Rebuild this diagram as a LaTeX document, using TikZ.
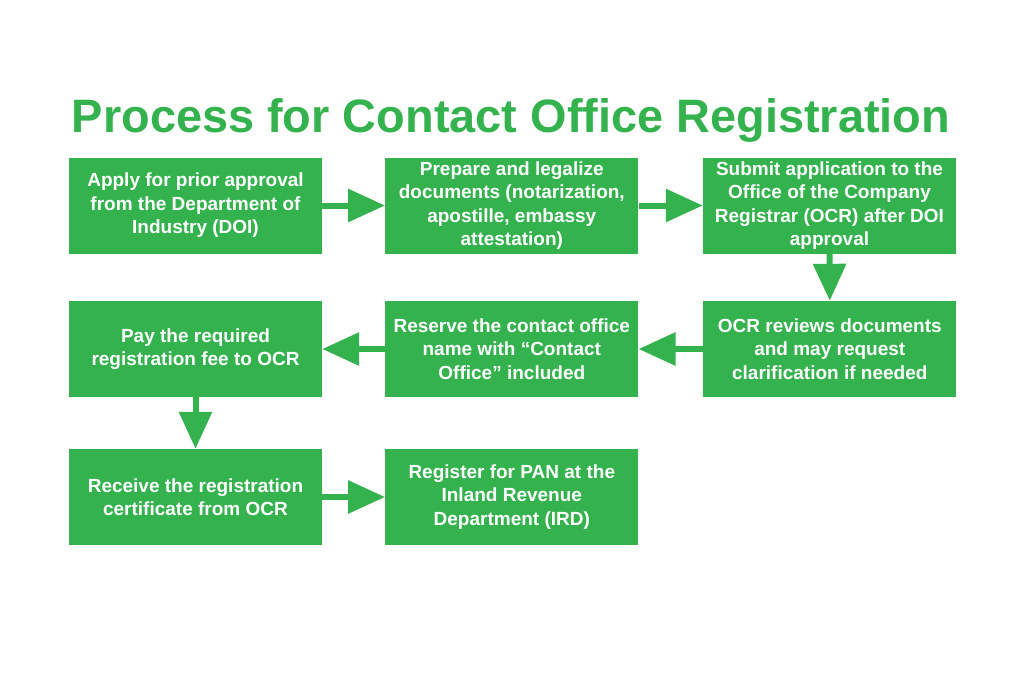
\documentclass[tikz,border=0pt]{standalone}
\usepackage{fontspec}
\setmainfont{Liberation Sans}
\usetikzlibrary{arrows.meta}
\definecolor{procgreen}{RGB}{52,178,78}
\tikzset{
  stepbox/.style={fill=procgreen, draw=none, minimum width=253pt, minimum height=96pt,
    inner sep=0pt, text=white, align=center, font=\bfseries\fontsize{19}{23.5}\selectfont},
  flowarrow/.style={draw=procgreen, line width=6pt,
    -{Triangle[length=37pt,width=32pt]}, shorten >=0pt},
}
\begin{document}
\begin{tikzpicture}[x=1pt,y=-1pt]
\useasboundingbox (0,0) rectangle (1024,683);
\node[anchor=base, text=procgreen, font=\bfseries\fontsize{46.9}{50}\selectfont, inner sep=0pt] (title) at (511,132) {Process for Contact Office Registration};
\node[stepbox] (b1) at (195.5,205.5) {Apply for prior approval\\from the Department of\\Industry (DOI)};
\node[stepbox] (b2) at (511.8,205.5) {Prepare and legalize\\documents (notarization,\\apostille, embassy\\attestation)};
\node[stepbox] (b3) at (829.5,205.5) {Submit application to the\\Office of the Company\\Registrar (OCR) after DOI\\approval};
\node[stepbox] (b4) at (195.5,349) {Pay the required\\registration fee to OCR};
\node[stepbox] (b5) at (511.8,349) {Reserve the contact office\\name with “Contact\\Office” included};
\node[stepbox] (b6) at (829.8,349) {OCR reviews documents\\and may request\\clarification if needed};
\node[stepbox] (b7) at (195.5,497) {Receive the registration\\certificate from OCR};
\node[stepbox] (b8) at (511.8,497) {Register for PAN at the\\Inland Revenue\\Department (IRD)};
\draw[flowarrow] (b1.east) -- (b2.west);
\draw[flowarrow] (b2.east) -- (b3.west);
\draw[flowarrow] (b3.south) -- (b6.north);
\draw[flowarrow] (b6.west) -- (b5.east);
\draw[flowarrow] (b5.west) -- (b4.east);
\draw[flowarrow] (b4.south) -- (b7.north);
\draw[flowarrow] (b7.east) -- (b8.west);
\end{tikzpicture}
\end{document}
